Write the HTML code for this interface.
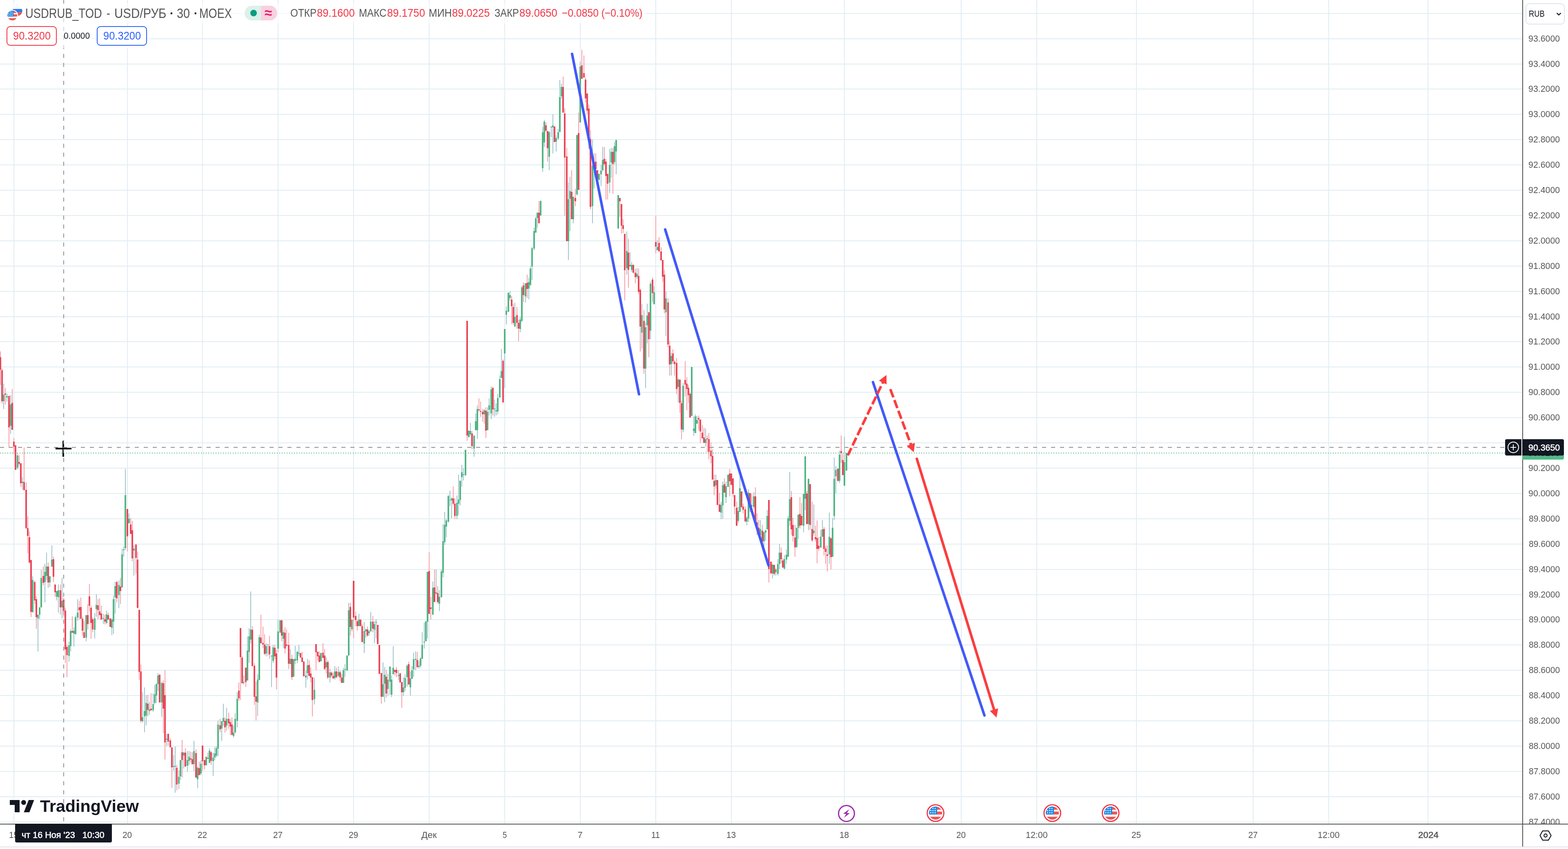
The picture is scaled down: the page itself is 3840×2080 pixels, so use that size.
<!DOCTYPE html>
<html lang="ru"><head><meta charset="utf-8"><title>USDRUB_TOD - USD/РУБ · 30 · MOEX</title>
<style>
html,body{margin:0;padding:0;background:#fff;}
body{width:3840px;height:2080px;overflow:hidden;position:relative;font-family:"Liberation Sans",sans-serif;}
#chart{position:absolute;left:0;top:0;width:3840px;height:2080px;overflow:hidden;}
svg{position:absolute;left:0;top:0;}
.t{position:absolute;white-space:pre;line-height:1;transform-origin:0 0;}
.b{position:absolute;box-sizing:border-box;}
</style></head>
<body>
<div id="chart">
<svg id="plot" width="3728" height="2018" viewBox="0 0 3728 2018" shape-rendering="crispEdges" style="z-index:0">
<path d="M0 32h3728v2h-3728zM0 94h3728v2h-3728zM0 156h3728v2h-3728zM0 217h3728v2h-3728zM0 279h3728v2h-3728zM0 341h3728v2h-3728zM0 403h3728v2h-3728zM0 465h3728v2h-3728zM0 527h3728v2h-3728zM0 589h3728v2h-3728zM0 651h3728v2h-3728zM0 713h3728v2h-3728zM0 775h3728v2h-3728zM0 836h3728v2h-3728zM0 898h3728v2h-3728zM0 960h3728v2h-3728zM0 1022h3728v2h-3728zM0 1084h3728v2h-3728zM0 1146h3728v2h-3728zM0 1208h3728v2h-3728zM0 1270h3728v2h-3728zM0 1332h3728v2h-3728zM0 1394h3728v2h-3728zM0 1456h3728v2h-3728zM0 1517h3728v2h-3728zM0 1579h3728v2h-3728zM0 1641h3728v2h-3728zM0 1703h3728v2h-3728zM0 1765h3728v2h-3728zM0 1827h3728v2h-3728zM0 1889h3728v2h-3728zM0 1951h3728v2h-3728zM0 2013h3728v2h-3728zM33 0h2v2018h-2zM311 0h2v2018h-2zM495 0h2v2018h-2zM680 0h2v2018h-2zM865 0h2v2018h-2zM1050 0h2v2018h-2zM1235 0h2v2018h-2zM1420 0h2v2018h-2zM1605 0h2v2018h-2zM1790 0h2v2018h-2zM2067 0h2v2018h-2zM2353 0h2v2018h-2zM2538 0h2v2018h-2zM2782 0h2v2018h-2zM3068 0h2v2018h-2zM3253 0h2v2018h-2zM3496 0h2v2018h-2z" fill="#E1ECF3"/>
<path d="M0 861h2v82h-2zM4 903h2v86h-2zM12 951h2v40h-2zM21 970h2v127h-2zM29 953h2v100h-2zM33 1073h2v39h-2zM37 1091h2v60h-2zM46 1115h2v26h-2zM50 1135h2v58h-2zM58 1096h2v105h-2zM63 1182h2v114h-2zM67 1265h2v90h-2zM71 1302h2v79h-2zM75 1372h2v140h-2zM84 1423h2v57h-2zM88 1461h2v79h-2zM105 1388h2v46h-2zM117 1378h2v62h-2zM130 1364h2v62h-2zM134 1432h2v30h-2zM147 1432h2v74h-2zM155 1464h2v47h-2zM159 1489h2v135h-2zM163 1580h2v79h-2zM176 1510h2v40h-2zM193 1472h2v45h-2zM197 1464h2v52h-2zM201 1511h2v46h-2zM205 1521h2v42h-2zM214 1480h2v62h-2zM218 1431h2v67h-2zM222 1484h2v81h-2zM226 1512h2v37h-2zM239 1468h2v49h-2zM243 1466h2v41h-2zM247 1484h2v34h-2zM256 1506h2v24h-2zM264 1501h2v17h-2zM269 1515h2v21h-2zM285 1423h2v53h-2zM294 1416h2v64h-2zM311 1247h2v104h-2zM319 1269h2v39h-2zM323 1276h2v99h-2zM332 1334h2v71h-2zM336 1352h2v139h-2zM340 1494h2v172h-2zM344 1628h2v143h-2zM361 1702h2v53h-2zM369 1698h2v43h-2zM390 1652h2v69h-2zM399 1667h2v129h-2zM403 1642h2v219h-2zM411 1797h2v30h-2zM416 1809h2v22h-2zM420 1831h2v99h-2zM432 1874h2v62h-2zM445 1813h2v92h-2zM453 1833h2v45h-2zM466 1842h2v26h-2zM470 1843h2v31h-2zM479 1836h2v69h-2zM487 1866h2v33h-2zM495 1825h2v64h-2zM500 1862h2v23h-2zM508 1844h2v15h-2zM516 1840h2v34h-2zM538 1761h2v33h-2zM550 1758h2v37h-2zM559 1746h2v39h-2zM563 1762h2v39h-2zM567 1758h2v44h-2zM584 1672h2v45h-2zM588 1538h2v177h-2zM592 1607h2v67h-2zM601 1635h2v48h-2zM617 1534h2v98h-2zM622 1625h2v102h-2zM626 1670h2v95h-2zM638 1506h2v70h-2zM643 1535h2v52h-2zM647 1554h2v51h-2zM659 1558h2v56h-2zM672 1580h2v35h-2zM676 1592h2v97h-2zM689 1518h2v53h-2zM697 1537h2v64h-2zM701 1542h2v42h-2zM706 1550h2v89h-2zM714 1604h2v62h-2zM735 1600h2v11h-2zM739 1597h2v25h-2zM743 1619h2v38h-2zM756 1617h2v39h-2zM760 1635h2v37h-2zM764 1659h2v96h-2zM773 1578h2v64h-2zM777 1596h2v22h-2zM781 1596h2v26h-2zM790 1576h2v36h-2zM794 1590h2v52h-2zM802 1618h2v46h-2zM811 1645h2v14h-2zM815 1648h2v15h-2zM823 1636h2v26h-2zM832 1643h2v26h-2zM836 1651h2v22h-2zM857 1477h2v80h-2zM865 1423h2v141h-2zM870 1498h2v36h-2zM874 1518h2v27h-2zM882 1518h2v16h-2zM886 1529h2v44h-2zM899 1535h2v25h-2zM912 1509h2v40h-2zM924 1531h2v47h-2zM928 1580h2v71h-2zM933 1649h2v75h-2zM945 1641h2v68h-2zM966 1641h2v14h-2zM970 1634h2v25h-2zM979 1648h2v24h-2zM983 1671h2v63h-2zM1000 1621h2v56h-2zM1021 1597h2v40h-2zM1050 1353h2v151h-2zM1054 1462h2v56h-2zM1063 1395h2v80h-2zM1071 1436h2v43h-2zM1109 1192h2v46h-2zM1113 1221h2v51h-2zM1143 786h2v294h-2zM1155 1056h2v45h-2zM1172 976h2v32h-2zM1176 984h2v37h-2zM1181 1002h2v31h-2zM1189 998h2v75h-2zM1206 949h2v69h-2zM1231 881h2v105h-2zM1252 725h2v69h-2zM1256 745h2v50h-2zM1265 752h2v53h-2zM1269 783h2v53h-2zM1281 692h2v48h-2zM1290 673h2v57h-2zM1319 493h2v54h-2zM1336 300h2v24h-2zM1340 321h2v75h-2zM1357 310h2v38h-2zM1378 188h2v88h-2zM1382 265h2v263h-2zM1387 363h2v228h-2zM1399 417h2v120h-2zM1408 463h2v42h-2zM1416 276h2v189h-2zM1424 122h2v71h-2zM1429 136h2v54h-2zM1433 190h2v61h-2zM1437 229h2v51h-2zM1441 256h2v109h-2zM1445 319h2v194h-2zM1458 376h2v38h-2zM1462 417h2v21h-2zM1479 360h2v46h-2zM1483 390h2v99h-2zM1487 426h2v63h-2zM1500 363h2v112h-2zM1517 485h2v46h-2zM1521 500h2v72h-2zM1525 537h2v34h-2zM1529 573h2v163h-2zM1538 585h2v120h-2zM1550 648h2v22h-2zM1555 659h2v35h-2zM1563 658h2v63h-2zM1567 707h2v154h-2zM1576 760h2v156h-2zM1588 765h2v110h-2zM1597 680h2v60h-2zM1605 529h2v92h-2zM1613 581h2v35h-2zM1618 606h2v32h-2zM1622 637h2v54h-2zM1626 661h2v107h-2zM1635 731h2v120h-2zM1639 835h2v85h-2zM1647 856h2v35h-2zM1651 883h2v37h-2zM1656 877h2v89h-2zM1664 930h2v81h-2zM1668 982h2v94h-2zM1677 885h2v86h-2zM1681 924h2v81h-2zM1685 943h2v44h-2zM1689 962h2v61h-2zM1710 1018h2v36h-2zM1714 1028h2v57h-2zM1719 1041h2v33h-2zM1723 1048h2v37h-2zM1731 1067h2v41h-2zM1735 1061h2v64h-2zM1740 1084h2v51h-2zM1744 1101h2v74h-2zM1748 1163h2v50h-2zM1756 1176h2v62h-2zM1761 1207h2v47h-2zM1773 1172h2v35h-2zM1786 1149h2v67h-2zM1790 1160h2v28h-2zM1794 1172h2v45h-2zM1798 1213h2v47h-2zM1803 1229h2v59h-2zM1815 1204h2v41h-2zM1819 1234h2v24h-2zM1824 1241h2v39h-2zM1836 1208h2v47h-2zM1840 1210h2v45h-2zM1849 1194h2v81h-2zM1853 1258h2v53h-2zM1857 1274h2v38h-2zM1866 1286h2v60h-2zM1882 1225h2v202h-2zM1887 1376h2v29h-2zM1895 1384h2v26h-2zM1912 1341h2v39h-2zM1916 1368h2v24h-2zM1937 1203h2v108h-2zM1941 1268h2v59h-2zM1946 1286h2v78h-2zM1958 1218h2v77h-2zM1962 1232h2v55h-2zM1975 1203h2v81h-2zM1983 1186h2v112h-2zM1988 1229h2v99h-2zM1996 1288h2v39h-2zM2000 1275h2v105h-2zM2004 1316h2v34h-2zM2017 1291h2v70h-2zM2021 1337h2v44h-2zM2025 1336h2v64h-2zM2034 1316h2v79h-2zM2051 1148h2v32h-2zM2059 1067h2v67h-2zM2063 1112h2v52h-2z" fill="#F7A0A8"/>
<path d="M8 940h2v62h-2zM16 964h2v20h-2zM25 968h2v95h-2zM42 1110h2v40h-2zM54 1169h2v30h-2zM79 1412h2v88h-2zM92 1506h2v90h-2zM96 1488h2v29h-2zM100 1396h2v92h-2zM109 1381h2v95h-2zM113 1354h2v67h-2zM121 1411h2v27h-2zM126 1336h2v53h-2zM138 1448h2v23h-2zM142 1432h2v69h-2zM151 1416h2v99h-2zM168 1572h2v49h-2zM172 1542h2v54h-2zM180 1537h2v47h-2zM184 1508h2v46h-2zM189 1468h2v53h-2zM210 1507h2v64h-2zM231 1502h2v62h-2zM235 1456h2v55h-2zM252 1504h2v25h-2zM260 1496h2v33h-2zM273 1515h2v41h-2zM277 1460h2v93h-2zM281 1425h2v78h-2zM290 1422h2v68h-2zM298 1344h2v95h-2zM302 1339h2v25h-2zM306 1149h2v198h-2zM315 1258h2v24h-2zM327 1336h2v74h-2zM348 1696h2v74h-2zM353 1684h2v110h-2zM357 1703h2v74h-2zM365 1720h2v31h-2zM374 1699h2v45h-2zM378 1678h2v48h-2zM382 1674h2v48h-2zM386 1649h2v44h-2zM395 1670h2v86h-2zM407 1798h2v30h-2zM424 1850h2v38h-2zM428 1829h2v113h-2zM437 1888h2v45h-2zM441 1862h2v49h-2zM449 1842h2v41h-2zM458 1840h2v50h-2zM462 1840h2v34h-2zM474 1815h2v74h-2zM483 1878h2v53h-2zM491 1863h2v36h-2zM504 1854h2v21h-2zM512 1833h2v36h-2zM521 1844h2v57h-2zM525 1830h2v33h-2zM529 1828h2v27h-2zM533 1765h2v88h-2zM542 1767h2v48h-2zM546 1724h2v54h-2zM554 1734h2v56h-2zM571 1778h2v29h-2zM575 1748h2v47h-2zM580 1696h2v86h-2zM596 1655h2v22h-2zM605 1559h2v108h-2zM609 1539h2v85h-2zM613 1449h2v127h-2zM630 1652h2v102h-2zM634 1555h2v111h-2zM651 1576h2v32h-2zM655 1578h2v28h-2zM664 1606h2v77h-2zM668 1580h2v44h-2zM680 1518h2v80h-2zM685 1518h2v32h-2zM693 1543h2v44h-2zM710 1590h2v37h-2zM718 1615h2v43h-2zM722 1582h2v45h-2zM727 1595h2v30h-2zM731 1580h2v27h-2zM748 1643h2v42h-2zM752 1614h2v51h-2zM769 1660h2v66h-2zM785 1599h2v21h-2zM798 1610h2v40h-2zM807 1638h2v34h-2zM819 1632h2v33h-2zM828 1633h2v26h-2zM840 1636h2v37h-2zM844 1627h2v31h-2zM849 1606h2v37h-2zM853 1477h2v129h-2zM861 1518h2v29h-2zM878 1504h2v30h-2zM891 1524h2v76h-2zM895 1540h2v22h-2zM903 1544h2v14h-2zM907 1499h2v48h-2zM916 1522h2v54h-2zM920 1517h2v47h-2zM937 1623h2v84h-2zM941 1634h2v86h-2zM949 1651h2v53h-2zM954 1633h2v69h-2zM958 1655h2v53h-2zM962 1583h2v69h-2zM975 1641h2v25h-2zM987 1659h2v46h-2zM991 1652h2v41h-2zM996 1628h2v54h-2zM1004 1645h2v59h-2zM1008 1632h2v31h-2zM1012 1599h2v59h-2zM1017 1596h2v46h-2zM1025 1619h2v19h-2zM1029 1610h2v25h-2zM1033 1549h2v65h-2zM1038 1525h2v64h-2zM1042 1522h2v49h-2zM1046 1401h2v163h-2zM1059 1425h2v81h-2zM1067 1395h2v62h-2zM1075 1446h2v51h-2zM1080 1395h2v69h-2zM1084 1284h2v130h-2zM1088 1254h2v81h-2zM1092 1271h2v45h-2zM1097 1213h2v67h-2zM1101 1202h2v38h-2zM1105 1218h2v52h-2zM1118 1214h2v58h-2zM1122 1163h2v99h-2zM1126 1177h2v61h-2zM1130 1139h2v53h-2zM1134 1147h2v30h-2zM1139 1102h2v64h-2zM1147 1055h2v16h-2zM1151 1036h2v33h-2zM1160 1067h2v52h-2zM1164 1013h2v41h-2zM1168 993h2v82h-2zM1185 1002h2v36h-2zM1193 998h2v56h-2zM1197 976h2v42h-2zM1202 947h2v80h-2zM1210 979h2v42h-2zM1214 988h2v30h-2zM1218 965h2v50h-2zM1223 920h2v54h-2zM1227 855h2v71h-2zM1235 806h2v144h-2zM1239 751h2v44h-2zM1244 717h2v47h-2zM1248 713h2v23h-2zM1260 742h2v58h-2zM1273 776h2v38h-2zM1277 701h2v88h-2zM1286 694h2v47h-2zM1294 681h2v52h-2zM1298 652h2v49h-2zM1302 605h2v81h-2zM1307 558h2v55h-2zM1311 531h2v39h-2zM1315 521h2v37h-2zM1323 492h2v36h-2zM1328 311h2v110h-2zM1332 294h2v66h-2zM1344 321h2v96h-2zM1349 310h2v26h-2zM1353 280h2v96h-2zM1361 331h2v40h-2zM1366 316h2v26h-2zM1370 196h2v129h-2zM1374 205h2v37h-2zM1391 447h2v190h-2zM1395 433h2v133h-2zM1403 482h2v65h-2zM1412 330h2v149h-2zM1420 150h2v150h-2zM1450 342h2v205h-2zM1454 375h2v87h-2zM1466 426h2v15h-2zM1471 404h2v52h-2zM1475 360h2v60h-2zM1492 365h2v108h-2zM1496 362h2v73h-2zM1504 348h2v55h-2zM1508 343h2v84h-2zM1513 478h2v82h-2zM1534 567h2v106h-2zM1542 618h2v35h-2zM1546 642h2v24h-2zM1559 657h2v26h-2zM1571 745h2v109h-2zM1580 790h2v161h-2zM1584 744h2v97h-2zM1592 690h2v141h-2zM1601 701h2v45h-2zM1609 588h2v25h-2zM1630 714h2v109h-2zM1643 864h2v56h-2zM1660 926h2v60h-2zM1672 939h2v120h-2zM1693 899h2v120h-2zM1698 1020h2v48h-2zM1702 1015h2v46h-2zM1706 1019h2v19h-2zM1727 1050h2v44h-2zM1752 1163h2v34h-2zM1765 1230h2v42h-2zM1769 1180h2v91h-2zM1777 1180h2v52h-2zM1782 1163h2v30h-2zM1807 1241h2v40h-2zM1811 1165h2v89h-2zM1828 1265h2v22h-2zM1832 1199h2v80h-2zM1845 1206h2v41h-2zM1861 1274h2v37h-2zM1870 1302h2v38h-2zM1874 1299h2v26h-2zM1878 1250h2v47h-2zM1891 1383h2v34h-2zM1899 1392h2v18h-2zM1904 1370h2v40h-2zM1908 1333h2v61h-2zM1920 1360h2v35h-2zM1925 1346h2v35h-2zM1929 1264h2v100h-2zM1933 1156h2v132h-2zM1950 1293h2v50h-2zM1954 1261h2v59h-2zM1967 1210h2v94h-2zM1971 1118h2v132h-2zM1979 1173h2v126h-2zM1992 1236h2v76h-2zM2009 1298h2v45h-2zM2013 1274h2v41h-2zM2030 1256h2v125h-2zM2038 1269h2v95h-2zM2042 1121h2v153h-2zM2046 1142h2v66h-2zM2055 1104h2v79h-2zM2067 1070h2v120h-2zM2072 1110h2v43h-2z" fill="#9DC5CC"/>
<path d="M-1 875h4v31h-4zM3 907h4v76h-4z" fill="#EB4659"/>
<path d="M7 967h4v16h-4z" fill="#53B484"/>
<path d="M11 964h4v3h-4z" fill="#EB4659"/>
<path d="M15 970h4v4h-4z" fill="#53B484"/>
<path d="M20 970h4v77h-4z" fill="#EB4659"/>
<path d="M24 991h4v52h-4z" fill="#53B484"/>
<path d="M28 987h4v66h-4zM32 1082h4v12h-4zM36 1091h4v60h-4z" fill="#EB4659"/>
<path d="M41 1116h4v30h-4z" fill="#53B484"/>
<path d="M45 1132h4v4h-4zM49 1135h4v49h-4z" fill="#EB4659"/>
<path d="M53 1180h4v3h-4z" fill="#53B484"/>
<path d="M57 1181h4v20h-4zM62 1200h4v94h-4zM66 1294h4v19h-4zM70 1316h4v62h-4zM74 1372h4v127h-4z" fill="#EB4659"/>
<path d="M78 1421h4v79h-4z" fill="#53B484"/>
<path d="M83 1426h4v45h-4zM87 1468h4v44h-4z" fill="#EB4659"/>
<path d="M91 1506h4v9h-4zM95 1488h4v18h-4zM99 1416h4v72h-4z" fill="#53B484"/>
<path d="M104 1411h4v17h-4z" fill="#EB4659"/>
<path d="M108 1401h4v25h-4zM112 1388h4v23h-4z" fill="#53B484"/>
<path d="M116 1388h4v39h-4z" fill="#EB4659"/>
<path d="M120 1412h4v15h-4zM125 1371h4v17h-4z" fill="#53B484"/>
<path d="M129 1370h4v43h-4zM133 1432h4v19h-4z" fill="#EB4659"/>
<path d="M137 1448h4v14h-4zM141 1446h4v17h-4z" fill="#53B484"/>
<path d="M146 1446h4v42h-4z" fill="#EB4659"/>
<path d="M150 1472h4v16h-4z" fill="#53B484"/>
<path d="M154 1469h4v28h-4zM158 1496h4v95h-4zM162 1585h4v20h-4z" fill="#EB4659"/>
<path d="M167 1581h4v26h-4zM171 1546h4v37h-4z" fill="#53B484"/>
<path d="M175 1546h4v4h-4z" fill="#EB4659"/>
<path d="M179 1545h4v7h-4zM183 1512h4v42h-4zM188 1501h4v12h-4z" fill="#53B484"/>
<path d="M192 1488h4v7h-4zM196 1487h4v29h-4zM200 1516h4v29h-4zM204 1549h4v14h-4z" fill="#EB4659"/>
<path d="M209 1507h4v55h-4z" fill="#53B484"/>
<path d="M213 1507h4v22h-4zM217 1461h4v23h-4zM221 1489h4v37h-4zM225 1517h4v25h-4z" fill="#EB4659"/>
<path d="M230 1515h4v28h-4zM234 1482h4v10h-4z" fill="#53B484"/>
<path d="M238 1483h4v12h-4zM242 1498h4v9h-4zM246 1503h4v15h-4z" fill="#EB4659"/>
<path d="M251 1514h4v2h-4z" fill="#53B484"/>
<path d="M255 1517h4v6h-4z" fill="#EB4659"/>
<path d="M259 1505h4v21h-4z" fill="#53B484"/>
<path d="M263 1507h4v11h-4zM268 1515h4v21h-4z" fill="#EB4659"/>
<path d="M272 1518h4v20h-4zM276 1468h4v55h-4zM280 1436h4v27h-4z" fill="#53B484"/>
<path d="M284 1426h4v40h-4z" fill="#EB4659"/>
<path d="M289 1433h4v25h-4z" fill="#53B484"/>
<path d="M293 1437h4v11h-4z" fill="#EB4659"/>
<path d="M297 1358h4v81h-4zM301 1346h4v2h-4zM305 1213h4v130h-4z" fill="#53B484"/>
<path d="M310 1247h4v67h-4z" fill="#EB4659"/>
<path d="M314 1271h4v11h-4z" fill="#53B484"/>
<path d="M318 1285h4v23h-4zM322 1299h4v69h-4z" fill="#EB4659"/>
<path d="M326 1344h4v5h-4z" fill="#53B484"/>
<path d="M331 1334h4v33h-4zM335 1371h4v118h-4zM339 1494h4v152h-4zM343 1645h4v121h-4z" fill="#EB4659"/>
<path d="M347 1757h4v10h-4zM352 1742h4v13h-4zM356 1722h4v31h-4z" fill="#53B484"/>
<path d="M360 1724h4v15h-4z" fill="#EB4659"/>
<path d="M364 1738h4v4h-4z" fill="#53B484"/>
<path d="M368 1736h4v4h-4z" fill="#EB4659"/>
<path d="M373 1725h4v15h-4zM377 1701h4v21h-4zM381 1676h4v28h-4zM385 1655h4v21h-4z" fill="#53B484"/>
<path d="M389 1653h4v68h-4z" fill="#EB4659"/>
<path d="M394 1673h4v48h-4z" fill="#53B484"/>
<path d="M398 1674h4v62h-4zM402 1703h4v116h-4z" fill="#EB4659"/>
<path d="M406 1810h4v2h-4z" fill="#53B484"/>
<path d="M410 1798h4v19h-4zM415 1814h4v17h-4zM419 1831h4v49h-4z" fill="#EB4659"/>
<path d="M423 1877h4v2h-4zM427 1876h4v2h-4z" fill="#53B484"/>
<path d="M431 1881h4v41h-4z" fill="#EB4659"/>
<path d="M436 1903h4v17h-4zM440 1862h4v40h-4z" fill="#53B484"/>
<path d="M444 1843h4v19h-4z" fill="#EB4659"/>
<path d="M448 1844h4v7h-4z" fill="#53B484"/>
<path d="M452 1844h4v34h-4z" fill="#EB4659"/>
<path d="M457 1862h4v14h-4zM461 1854h4v10h-4z" fill="#53B484"/>
<path d="M465 1858h4v3h-4zM469 1860h4v12h-4z" fill="#EB4659"/>
<path d="M473 1840h4v32h-4z" fill="#53B484"/>
<path d="M478 1845h4v60h-4z" fill="#EB4659"/>
<path d="M482 1881h4v28h-4z" fill="#53B484"/>
<path d="M486 1882h4v17h-4z" fill="#EB4659"/>
<path d="M490 1871h4v24h-4z" fill="#53B484"/>
<path d="M494 1827h4v38h-4zM499 1862h4v13h-4z" fill="#EB4659"/>
<path d="M503 1854h4v21h-4z" fill="#53B484"/>
<path d="M507 1857h4v2h-4z" fill="#EB4659"/>
<path d="M511 1839h4v30h-4z" fill="#53B484"/>
<path d="M515 1843h4v21h-4z" fill="#EB4659"/>
<path d="M520 1856h4v9h-4zM524 1846h4v10h-4zM528 1833h4v18h-4zM532 1775h4v59h-4z" fill="#53B484"/>
<path d="M537 1777h4v10h-4z" fill="#EB4659"/>
<path d="M541 1767h4v18h-4zM545 1759h4v9h-4z" fill="#53B484"/>
<path d="M549 1766h4v16h-4z" fill="#EB4659"/>
<path d="M553 1761h4v17h-4z" fill="#53B484"/>
<path d="M558 1761h4v11h-4zM562 1769h4v11h-4zM566 1775h4v25h-4z" fill="#EB4659"/>
<path d="M570 1795h4v8h-4zM574 1761h4v34h-4zM579 1712h4v54h-4z" fill="#53B484"/>
<path d="M583 1692h4v19h-4zM587 1539h4v71h-4zM591 1611h4v63h-4z" fill="#EB4659"/>
<path d="M595 1671h4v2h-4z" fill="#53B484"/>
<path d="M600 1636h4v35h-4z" fill="#EB4659"/>
<path d="M604 1594h4v73h-4zM608 1559h4v38h-4zM612 1542h4v25h-4z" fill="#53B484"/>
<path d="M616 1543h4v89h-4zM621 1631h4v76h-4zM625 1706h4v13h-4z" fill="#EB4659"/>
<path d="M629 1665h4v56h-4zM633 1561h4v105h-4z" fill="#53B484"/>
<path d="M637 1562h4v14h-4zM642 1575h4v4h-4zM646 1579h4v23h-4z" fill="#EB4659"/>
<path d="M650 1583h4v18h-4zM654 1579h4v1h-4z" fill="#53B484"/>
<path d="M658 1583h4v20h-4z" fill="#EB4659"/>
<path d="M663 1606h4v2h-4zM667 1586h4v33h-4z" fill="#53B484"/>
<path d="M671 1587h4v21h-4zM675 1601h4v59h-4z" fill="#EB4659"/>
<path d="M679 1547h4v42h-4zM684 1520h4v30h-4z" fill="#53B484"/>
<path d="M688 1520h4v37h-4z" fill="#EB4659"/>
<path d="M692 1549h4v16h-4z" fill="#53B484"/>
<path d="M696 1550h4v39h-4zM700 1579h4v3h-4zM705 1580h4v46h-4z" fill="#EB4659"/>
<path d="M709 1614h4v13h-4z" fill="#53B484"/>
<path d="M713 1614h4v45h-4z" fill="#EB4659"/>
<path d="M717 1615h4v43h-4zM721 1614h4v5h-4zM726 1597h4v21h-4zM730 1599h4v2h-4z" fill="#53B484"/>
<path d="M734 1600h4v11h-4zM738 1611h4v11h-4zM742 1621h4v36h-4z" fill="#EB4659"/>
<path d="M747 1655h4v5h-4zM751 1630h4v19h-4z" fill="#53B484"/>
<path d="M755 1629h4v27h-4zM759 1650h4v10h-4zM763 1659h4v56h-4z" fill="#EB4659"/>
<path d="M768 1690h4v23h-4z" fill="#53B484"/>
<path d="M772 1578h4v20h-4zM776 1597h4v11h-4zM780 1606h4v16h-4z" fill="#EB4659"/>
<path d="M784 1600h4v20h-4z" fill="#53B484"/>
<path d="M789 1599h4v13h-4zM793 1606h4v33h-4z" fill="#EB4659"/>
<path d="M797 1622h4v13h-4z" fill="#53B484"/>
<path d="M801 1622h4v38h-4z" fill="#EB4659"/>
<path d="M806 1647h4v13h-4z" fill="#53B484"/>
<path d="M810 1648h4v7h-4zM814 1656h4v6h-4z" fill="#EB4659"/>
<path d="M818 1645h4v16h-4z" fill="#53B484"/>
<path d="M822 1645h4v14h-4z" fill="#EB4659"/>
<path d="M827 1646h4v10h-4z" fill="#53B484"/>
<path d="M831 1647h4v13h-4zM835 1660h4v13h-4z" fill="#EB4659"/>
<path d="M839 1642h4v31h-4zM843 1639h4v2h-4zM848 1606h4v37h-4zM852 1495h4v111h-4z" fill="#53B484"/>
<path d="M856 1487h4v49h-4z" fill="#EB4659"/>
<path d="M860 1518h4v24h-4z" fill="#53B484"/>
<path d="M864 1423h4v90h-4zM869 1509h4v10h-4zM873 1522h4v12h-4z" fill="#EB4659"/>
<path d="M877 1518h4v16h-4z" fill="#53B484"/>
<path d="M881 1518h4v16h-4zM885 1534h4v39h-4z" fill="#EB4659"/>
<path d="M890 1546h4v31h-4zM894 1542h4v5h-4z" fill="#53B484"/>
<path d="M898 1542h4v15h-4z" fill="#EB4659"/>
<path d="M902 1547h4v4h-4zM906 1523h4v24h-4z" fill="#53B484"/>
<path d="M911 1523h4v17h-4z" fill="#EB4659"/>
<path d="M915 1529h4v14h-4zM919 1524h4v2h-4z" fill="#53B484"/>
<path d="M923 1531h4v47h-4zM927 1580h4v71h-4zM932 1649h4v58h-4z" fill="#EB4659"/>
<path d="M936 1676h4v31h-4zM940 1653h4v22h-4z" fill="#53B484"/>
<path d="M944 1658h4v41h-4z" fill="#EB4659"/>
<path d="M948 1665h4v23h-4zM953 1633h4v37h-4zM957 1665h4v37h-4zM961 1636h4v16h-4z" fill="#53B484"/>
<path d="M965 1641h4v5h-4zM969 1641h4v8h-4z" fill="#EB4659"/>
<path d="M974 1654h4v2h-4z" fill="#53B484"/>
<path d="M978 1650h4v22h-4zM982 1671h4v25h-4z" fill="#EB4659"/>
<path d="M986 1684h4v12h-4zM990 1661h4v24h-4zM995 1631h4v28h-4z" fill="#53B484"/>
<path d="M999 1627h4v50h-4z" fill="#EB4659"/>
<path d="M1003 1662h4v22h-4zM1007 1642h4v21h-4zM1011 1615h4v25h-4zM1016 1614h4v3h-4z" fill="#53B484"/>
<path d="M1020 1617h4v17h-4z" fill="#EB4659"/>
<path d="M1024 1631h4v3h-4zM1028 1613h4v18h-4zM1032 1580h4v34h-4zM1037 1572h4v2h-4zM1041 1522h4v49h-4zM1045 1401h4v122h-4z" fill="#53B484"/>
<path d="M1049 1399h4v105h-4zM1053 1488h4v4h-4z" fill="#EB4659"/>
<path d="M1058 1440h4v66h-4z" fill="#53B484"/>
<path d="M1062 1439h4v36h-4z" fill="#EB4659"/>
<path d="M1066 1451h4v3h-4z" fill="#53B484"/>
<path d="M1070 1453h4v22h-4z" fill="#EB4659"/>
<path d="M1074 1462h4v17h-4zM1079 1400h4v63h-4zM1083 1326h4v77h-4zM1087 1286h4v42h-4zM1091 1275h4v15h-4zM1096 1215h4v63h-4zM1100 1225h4v1h-4zM1104 1221h4v5h-4z" fill="#53B484"/>
<path d="M1108 1221h4v13h-4zM1112 1234h4v30h-4z" fill="#EB4659"/>
<path d="M1117 1232h4v32h-4zM1121 1224h4v10h-4zM1125 1178h4v47h-4zM1129 1157h4v12h-4zM1133 1162h4v2h-4zM1138 1102h4v62h-4z" fill="#53B484"/>
<path d="M1142 786h4v281h-4z" fill="#EB4659"/>
<path d="M1146 1055h4v16h-4zM1150 1056h4v8h-4z" fill="#53B484"/>
<path d="M1154 1062h4v31h-4z" fill="#EB4659"/>
<path d="M1159 1067h4v32h-4zM1163 1032h4v22h-4zM1167 1002h4v52h-4z" fill="#53B484"/>
<path d="M1171 1003h4v2h-4zM1175 1007h4v2h-4zM1180 1009h4v6h-4z" fill="#EB4659"/>
<path d="M1184 1005h4v10h-4z" fill="#53B484"/>
<path d="M1188 1006h4v49h-4z" fill="#EB4659"/>
<path d="M1192 1009h4v45h-4zM1196 993h4v11h-4zM1201 954h4v59h-4z" fill="#53B484"/>
<path d="M1205 950h4v53h-4z" fill="#EB4659"/>
<path d="M1209 1001h4v2h-4zM1213 1005h4v3h-4zM1217 975h4v33h-4zM1222 929h4v45h-4zM1226 909h4v17h-4z" fill="#53B484"/>
<path d="M1230 884h4v102h-4z" fill="#EB4659"/>
<path d="M1234 806h4v60h-4zM1238 761h4v10h-4zM1243 717h4v47h-4zM1247 723h4v7h-4z" fill="#53B484"/>
<path d="M1251 734h4v16h-4zM1255 752h4v39h-4z" fill="#EB4659"/>
<path d="M1259 776h4v24h-4z" fill="#53B484"/>
<path d="M1264 772h4v19h-4zM1268 791h4v14h-4z" fill="#EB4659"/>
<path d="M1272 783h4v23h-4zM1276 704h4v82h-4z" fill="#53B484"/>
<path d="M1280 699h4v24h-4z" fill="#EB4659"/>
<path d="M1285 694h4v32h-4z" fill="#53B484"/>
<path d="M1289 693h4v15h-4z" fill="#EB4659"/>
<path d="M1293 691h4v16h-4zM1297 658h4v40h-4zM1301 608h4v45h-4zM1306 566h4v43h-4zM1310 535h4v35h-4zM1314 521h4v13h-4z" fill="#53B484"/>
<path d="M1318 521h4v26h-4z" fill="#EB4659"/>
<path d="M1322 492h4v36h-4zM1327 324h4v88h-4zM1331 298h4v51h-4z" fill="#53B484"/>
<path d="M1335 307h4v13h-4zM1339 321h4v42h-4z" fill="#EB4659"/>
<path d="M1343 324h4v60h-4zM1348 310h4v2h-4zM1352 307h4v5h-4z" fill="#53B484"/>
<path d="M1356 310h4v38h-4z" fill="#EB4659"/>
<path d="M1360 338h4v9h-4zM1365 324h4v15h-4zM1369 238h4v85h-4zM1373 213h4v23h-4z" fill="#53B484"/>
<path d="M1377 213h4v63h-4zM1381 278h4v108h-4zM1386 383h4v208h-4z" fill="#EB4659"/>
<path d="M1390 488h4v103h-4zM1394 468h4v19h-4z" fill="#53B484"/>
<path d="M1398 470h4v67h-4z" fill="#EB4659"/>
<path d="M1402 482h4v55h-4z" fill="#53B484"/>
<path d="M1407 485h4v8h-4z" fill="#EB4659"/>
<path d="M1411 331h4v145h-4z" fill="#53B484"/>
<path d="M1415 326h4v139h-4z" fill="#EB4659"/>
<path d="M1419 163h4v137h-4z" fill="#53B484"/>
<path d="M1423 160h4v33h-4zM1428 179h4v11h-4zM1432 195h4v46h-4zM1436 229h4v42h-4zM1440 266h4v71h-4zM1444 341h4v166h-4z" fill="#EB4659"/>
<path d="M1449 406h4v99h-4zM1453 398h4v7h-4z" fill="#53B484"/>
<path d="M1457 396h4v18h-4zM1461 417h4v21h-4z" fill="#EB4659"/>
<path d="M1465 426h4v15h-4zM1470 418h4v9h-4zM1474 392h4v25h-4z" fill="#53B484"/>
<path d="M1478 389h4v13h-4zM1482 396h4v35h-4zM1486 426h4v24h-4z" fill="#EB4659"/>
<path d="M1491 404h4v43h-4zM1495 372h4v26h-4z" fill="#53B484"/>
<path d="M1499 372h4v30h-4z" fill="#EB4659"/>
<path d="M1503 358h4v39h-4zM1507 343h4v28h-4zM1512 478h4v82h-4z" fill="#53B484"/>
<path d="M1516 485h4v8h-4zM1520 500h4v53h-4zM1524 552h4v9h-4zM1528 573h4v89h-4z" fill="#EB4659"/>
<path d="M1533 615h4v42h-4z" fill="#53B484"/>
<path d="M1537 619h4v42h-4z" fill="#EB4659"/>
<path d="M1541 649h4v4h-4zM1545 649h4v12h-4z" fill="#53B484"/>
<path d="M1549 649h4v19h-4zM1554 668h4v11h-4z" fill="#EB4659"/>
<path d="M1558 671h4v7h-4z" fill="#53B484"/>
<path d="M1562 676h4v39h-4zM1566 710h4v90h-4z" fill="#EB4659"/>
<path d="M1570 772h4v43h-4z" fill="#53B484"/>
<path d="M1575 786h4v117h-4z" fill="#EB4659"/>
<path d="M1579 802h4v101h-4zM1583 773h4v24h-4z" fill="#53B484"/>
<path d="M1587 765h4v66h-4z" fill="#EB4659"/>
<path d="M1591 695h4v115h-4z" fill="#53B484"/>
<path d="M1596 685h4v33h-4z" fill="#EB4659"/>
<path d="M1600 716h4v29h-4z" fill="#53B484"/>
<path d="M1604 593h4v11h-4z" fill="#EB4659"/>
<path d="M1608 605h4v8h-4z" fill="#53B484"/>
<path d="M1612 595h4v21h-4zM1617 616h4v22h-4zM1621 637h4v41h-4zM1625 673h4v85h-4z" fill="#EB4659"/>
<path d="M1629 731h4v34h-4z" fill="#53B484"/>
<path d="M1634 741h4v103h-4zM1638 847h4v46h-4z" fill="#EB4659"/>
<path d="M1642 872h4v20h-4z" fill="#53B484"/>
<path d="M1646 866h4v19h-4zM1650 886h4v6h-4zM1655 889h4v64h-4z" fill="#EB4659"/>
<path d="M1659 930h4v18h-4z" fill="#53B484"/>
<path d="M1663 930h4v57h-4zM1667 988h4v64h-4z" fill="#EB4659"/>
<path d="M1671 945h4v108h-4z" fill="#53B484"/>
<path d="M1676 931h4v11h-4zM1680 940h4v13h-4zM1684 950h4v18h-4zM1688 965h4v58h-4z" fill="#EB4659"/>
<path d="M1692 899h4v120h-4zM1697 1050h4v6h-4zM1701 1020h4v41h-4zM1705 1029h4v9h-4z" fill="#53B484"/>
<path d="M1709 1024h4v4h-4zM1713 1028h4v29h-4zM1718 1060h4v14h-4zM1722 1072h4v13h-4z" fill="#EB4659"/>
<path d="M1726 1076h4v9h-4z" fill="#53B484"/>
<path d="M1730 1074h4v2h-4zM1734 1076h4v31h-4zM1739 1104h4v14h-4zM1743 1117h4v58h-4zM1747 1178h4v14h-4z" fill="#EB4659"/>
<path d="M1751 1176h4v13h-4z" fill="#53B484"/>
<path d="M1755 1176h4v61h-4zM1760 1236h4v18h-4z" fill="#EB4659"/>
<path d="M1764 1237h4v19h-4zM1768 1189h4v49h-4z" fill="#53B484"/>
<path d="M1772 1186h4v21h-4z" fill="#EB4659"/>
<path d="M1776 1191h4v27h-4zM1781 1163h4v30h-4z" fill="#53B484"/>
<path d="M1785 1160h4v19h-4zM1789 1160h4v28h-4zM1793 1172h4v38h-4zM1797 1213h4v28h-4zM1802 1244h4v44h-4z" fill="#EB4659"/>
<path d="M1806 1252h4v24h-4zM1810 1196h4v58h-4z" fill="#53B484"/>
<path d="M1814 1204h4v38h-4zM1818 1241h4v8h-4zM1823 1248h4v29h-4z" fill="#EB4659"/>
<path d="M1827 1269h4v9h-4zM1831 1207h4v63h-4z" fill="#53B484"/>
<path d="M1835 1208h4v32h-4zM1839 1238h4v2h-4z" fill="#EB4659"/>
<path d="M1844 1216h4v26h-4z" fill="#53B484"/>
<path d="M1848 1216h4v59h-4zM1852 1280h4v14h-4zM1856 1293h4v19h-4z" fill="#EB4659"/>
<path d="M1860 1296h4v15h-4z" fill="#53B484"/>
<path d="M1865 1300h4v27h-4z" fill="#EB4659"/>
<path d="M1869 1304h4v22h-4zM1873 1299h4v6h-4zM1877 1264h4v33h-4z" fill="#53B484"/>
<path d="M1881 1225h4v169h-4zM1886 1376h4v29h-4z" fill="#EB4659"/>
<path d="M1890 1383h4v22h-4z" fill="#53B484"/>
<path d="M1894 1384h4v22h-4z" fill="#EB4659"/>
<path d="M1898 1395h4v7h-4zM1903 1382h4v24h-4zM1907 1354h4v28h-4z" fill="#53B484"/>
<path d="M1911 1354h4v16h-4zM1915 1373h4v17h-4z" fill="#EB4659"/>
<path d="M1919 1370h4v23h-4zM1924 1359h4v12h-4zM1928 1270h4v94h-4zM1932 1223h4v53h-4z" fill="#53B484"/>
<path d="M1936 1218h4v79h-4zM1940 1286h4v27h-4zM1945 1317h4v24h-4z" fill="#EB4659"/>
<path d="M1949 1293h4v47h-4zM1953 1261h4v32h-4z" fill="#53B484"/>
<path d="M1957 1259h4v29h-4zM1961 1264h4v23h-4z" fill="#EB4659"/>
<path d="M1966 1210h4v78h-4zM1970 1118h4v104h-4z" fill="#53B484"/>
<path d="M1974 1209h4v75h-4z" fill="#EB4659"/>
<path d="M1978 1173h4v111h-4z" fill="#53B484"/>
<path d="M1982 1186h4v100h-4zM1987 1296h4v28h-4z" fill="#EB4659"/>
<path d="M1991 1300h4v6h-4z" fill="#53B484"/>
<path d="M1995 1316h4v5h-4zM1999 1318h4v27h-4zM2003 1337h4v7h-4z" fill="#EB4659"/>
<path d="M2008 1315h4v26h-4zM2012 1297h4v18h-4z" fill="#53B484"/>
<path d="M2016 1296h4v49h-4zM2020 1344h4v8h-4zM2024 1358h4v4h-4z" fill="#EB4659"/>
<path d="M2029 1315h4v43h-4z" fill="#53B484"/>
<path d="M2033 1319h4v46h-4z" fill="#EB4659"/>
<path d="M2037 1293h4v71h-4zM2041 1173h4v91h-4zM2045 1151h4v16h-4z" fill="#53B484"/>
<path d="M2050 1148h4v30h-4z" fill="#EB4659"/>
<path d="M2054 1114h4v64h-4z" fill="#53B484"/>
<path d="M2058 1105h4v5h-4zM2062 1127h4v37h-4z" fill="#EB4659"/>
<path d="M2066 1132h4v58h-4zM2071 1110h4v43h-4z" fill="#53B484"/>
<path d="M153 1080h4v39h-4zM136 1097h39v4h-39z" fill="#000"/>
<path d="M0 1110H3686" stroke="#4DB684" stroke-width="2" stroke-dasharray="2 4" fill="none"/>
<path d="M0 1096H3686" stroke="#929292" stroke-width="2" stroke-dasharray="10 12" fill="none"/>
<path d="M156 0V2018" stroke="#929292" stroke-width="2" stroke-dasharray="10 12" fill="none"/>
<g shape-rendering="geometricPrecision"><path d="M1401 132L1564.9 965.8" stroke="#4259F8" stroke-width="6.3" stroke-linecap="round" fill="none"/><path d="M1629 562.2L1882 1385" stroke="#4259F8" stroke-width="6.3" stroke-linecap="round" fill="none"/><path d="M2137.9 936.2L2410.9 1752.7" stroke="#4259F8" stroke-width="6.3" stroke-linecap="round" fill="none"/><circle cx="2077.5" cy="1113.0" r="3.15" fill="#FB3D3F"/><path d="M2077.5 1113.0L2162.8 935.5" stroke="#FB3D3F" stroke-width="6.3" stroke-dasharray="21 7" stroke-dashoffset="4" fill="none"/><path d="M2170.8 918.8L2171.4 941.8L2152.5 932.7z" fill="#FB3D3F"/><circle cx="2181.3" cy="955.9" r="3.15" fill="#FB3D3F"/><path d="M2181.3 955.9L2231.4 1090.6" stroke="#FB3D3F" stroke-width="6.3" stroke-dasharray="21 7" stroke-dashoffset="2.2" fill="none"/><path d="M2237.8 1107.9L2220.8 1092.3L2240.5 1085.0z" fill="#FB3D3F"/><path d="M2245.2 1123.9L2435.0 1740.4" stroke="#FB3D3F" stroke-width="6.3" stroke-linecap="round" fill="none"/><path d="M2440.4 1758.1L2424.3 1741.6L2444.4 1735.4z" fill="#FB3D3F"/></g>
</svg>
<div class="b" style="left:0;top:8px;width:1582px;height:49px;background:rgba(255,255,255,.6);z-index:3"></div>
<div class="b" style="left:0;top:62px;width:367px;height:56px;background:rgba(255,255,255,.6);z-index:3"></div>
<div class="b" style="left:3730px;top:0;width:110px;height:2018px;background:#fff;z-index:1"></div>
<div class="b" style="left:0;top:2020px;width:3840px;height:54px;background:#fff;z-index:3"></div>
<div class="b" style="left:3728px;top:0;width:2px;height:2074px;background:#525252;z-index:4"></div>
<div class="b" style="left:0;top:2018px;width:3840px;height:2px;background:#525252;z-index:4"></div>
<div class="b" style="left:0;top:2074px;width:3840px;height:2px;background:#E0E3EB;z-index:4"></div>
<div class="b" style="left:3736px;top:8px;width:96px;height:52px;border:2px solid #E0E3EB;border-radius:9px;background:#fff;z-index:5"></div>
<div class="b" style="left:599px;top:14px;width:40px;height:36px;background:#DCF1EB;border-radius:18px 0 0 18px;z-index:4"></div>
<div class="b" style="left:639px;top:14px;width:40px;height:36px;background:#F9D1E0;border-radius:0 18px 18px 0;z-index:4"></div>
<div class="b" style="left:613px;top:24px;width:16px;height:16px;background:#0E9A80;border-radius:8px;z-index:5"></div>
<div class="b" style="left:16px;top:64px;width:123px;height:48px;border:2px solid #F23645;border-radius:9px;background:rgba(255,255,255,.5);z-index:4"></div>
<div class="b" style="left:237px;top:64px;width:123px;height:48px;border:2px solid #2962FF;border-radius:9px;background:rgba(255,255,255,.5);z-index:4"></div>
<div class="b" style="left:3728px;top:1094px;width:102px;height:32px;background:#53B987;border-radius:0 4px 4px 0;z-index:5"></div>
<div class="b" style="left:3728px;top:1076px;width:102px;height:40px;background:#131722;border-radius:0 4px 4px 0;z-index:7"></div>
<div class="b" style="left:3686px;top:1076px;width:40px;height:40px;background:#131722;border-radius:4px 0 0 4px;z-index:7"></div>
<div class="b" style="left:37px;top:2018px;width:237px;height:46px;background:#131722;border-radius:0 0 4px 4px;z-index:7"></div>
<svg id="icons" width="3840" height="2080" viewBox="0 0 3840 2080" style="z-index:9;pointer-events:none">
<circle cx="2073" cy="1993" r="22.5" fill="#fff"/>
<circle cx="2073" cy="1993" r="19.4" fill="#fff" stroke="#9C27B0" stroke-width="3.0"/>
<path d="M2079.8 1982.6L2064.9 1993.7L2072.5 1994.0L2066.7 2003.6L2081.0 1992.2L2074.0 1991.9z" fill="#9C27B0"/>
<circle cx="2291.1" cy="1992" r="23.5" fill="#fff"/>
<circle cx="2291.1" cy="1992" r="20.35" fill="#fff" stroke="#F23645" stroke-width="2.9"/>
<clipPath id="f0"><circle cx="2291.1" cy="1992" r="16"/></clipPath><g clip-path="url(#f0)"><rect x="2275.1" y="1976" width="32" height="32" fill="#F4F4F8"/><rect x="2275.1" y="1976.60" width="32" height="7.00" fill="#EF5350"/><rect x="2275.1" y="1988.40" width="32" height="6.90" fill="#EF5350"/><rect x="2275.1" y="2001.10" width="32" height="6.90" fill="#EF5350"/><rect x="2275.1" y="1976" width="19.90" height="19.30" fill="#1E88E5"/><path d="M2284.70 1978.20L2285.29 1979.69L2286.89 1979.79L2285.65 1980.81L2286.05 1982.36L2284.70 1981.50L2283.35 1982.36L2283.75 1980.81L2282.51 1979.79L2284.11 1979.69z" fill="#fff"/><path d="M2290.10 1978.20L2290.69 1979.69L2292.29 1979.79L2291.05 1980.81L2291.45 1982.36L2290.10 1981.50L2288.75 1982.36L2289.15 1980.81L2287.91 1979.79L2289.51 1979.69z" fill="#fff"/><path d="M2279.30 1983.60L2279.89 1985.09L2281.49 1985.19L2280.25 1986.21L2280.65 1987.76L2279.30 1986.90L2277.95 1987.76L2278.35 1986.21L2277.11 1985.19L2278.71 1985.09z" fill="#fff"/><path d="M2284.80 1983.60L2285.39 1985.09L2286.99 1985.19L2285.75 1986.21L2286.15 1987.76L2284.80 1986.90L2283.45 1987.76L2283.85 1986.21L2282.61 1985.19L2284.21 1985.09z" fill="#fff"/><path d="M2290.10 1983.60L2290.69 1985.09L2292.29 1985.19L2291.05 1986.21L2291.45 1987.76L2290.10 1986.90L2288.75 1987.76L2289.15 1986.21L2287.91 1985.19L2289.51 1985.09z" fill="#fff"/><path d="M2279.30 1988.90L2279.89 1990.39L2281.49 1990.49L2280.25 1991.51L2280.65 1993.06L2279.30 1992.20L2277.95 1993.06L2278.35 1991.51L2277.11 1990.49L2278.71 1990.39z" fill="#fff"/><path d="M2284.80 1988.90L2285.39 1990.39L2286.99 1990.49L2285.75 1991.51L2286.15 1993.06L2284.80 1992.20L2283.45 1993.06L2283.85 1991.51L2282.61 1990.49L2284.21 1990.39z" fill="#fff"/><path d="M2290.10 1988.90L2290.69 1990.39L2292.29 1990.49L2291.05 1991.51L2291.45 1993.06L2290.10 1992.20L2288.75 1993.06L2289.15 1991.51L2287.91 1990.49L2289.51 1990.39z" fill="#fff"/></g>
<circle cx="2577.1" cy="1992" r="23.5" fill="#fff"/>
<circle cx="2577.1" cy="1992" r="20.35" fill="#fff" stroke="#F23645" stroke-width="2.9"/>
<clipPath id="f1"><circle cx="2577.1" cy="1992" r="16"/></clipPath><g clip-path="url(#f1)"><rect x="2561.1" y="1976" width="32" height="32" fill="#F4F4F8"/><rect x="2561.1" y="1976.60" width="32" height="7.00" fill="#EF5350"/><rect x="2561.1" y="1988.40" width="32" height="6.90" fill="#EF5350"/><rect x="2561.1" y="2001.10" width="32" height="6.90" fill="#EF5350"/><rect x="2561.1" y="1976" width="19.90" height="19.30" fill="#1E88E5"/><path d="M2570.70 1978.20L2571.29 1979.69L2572.89 1979.79L2571.65 1980.81L2572.05 1982.36L2570.70 1981.50L2569.35 1982.36L2569.75 1980.81L2568.51 1979.79L2570.11 1979.69z" fill="#fff"/><path d="M2576.10 1978.20L2576.69 1979.69L2578.29 1979.79L2577.05 1980.81L2577.45 1982.36L2576.10 1981.50L2574.75 1982.36L2575.15 1980.81L2573.91 1979.79L2575.51 1979.69z" fill="#fff"/><path d="M2565.30 1983.60L2565.89 1985.09L2567.49 1985.19L2566.25 1986.21L2566.65 1987.76L2565.30 1986.90L2563.95 1987.76L2564.35 1986.21L2563.11 1985.19L2564.71 1985.09z" fill="#fff"/><path d="M2570.80 1983.60L2571.39 1985.09L2572.99 1985.19L2571.75 1986.21L2572.15 1987.76L2570.80 1986.90L2569.45 1987.76L2569.85 1986.21L2568.61 1985.19L2570.21 1985.09z" fill="#fff"/><path d="M2576.10 1983.60L2576.69 1985.09L2578.29 1985.19L2577.05 1986.21L2577.45 1987.76L2576.10 1986.90L2574.75 1987.76L2575.15 1986.21L2573.91 1985.19L2575.51 1985.09z" fill="#fff"/><path d="M2565.30 1988.90L2565.89 1990.39L2567.49 1990.49L2566.25 1991.51L2566.65 1993.06L2565.30 1992.20L2563.95 1993.06L2564.35 1991.51L2563.11 1990.49L2564.71 1990.39z" fill="#fff"/><path d="M2570.80 1988.90L2571.39 1990.39L2572.99 1990.49L2571.75 1991.51L2572.15 1993.06L2570.80 1992.20L2569.45 1993.06L2569.85 1991.51L2568.61 1990.49L2570.21 1990.39z" fill="#fff"/><path d="M2576.10 1988.90L2576.69 1990.39L2578.29 1990.49L2577.05 1991.51L2577.45 1993.06L2576.10 1992.20L2574.75 1993.06L2575.15 1991.51L2573.91 1990.49L2575.51 1990.39z" fill="#fff"/></g>
<circle cx="2719.9" cy="1992" r="23.5" fill="#fff"/>
<circle cx="2719.9" cy="1992" r="20.35" fill="#fff" stroke="#F23645" stroke-width="2.9"/>
<clipPath id="f2"><circle cx="2719.9" cy="1992" r="16"/></clipPath><g clip-path="url(#f2)"><rect x="2703.9" y="1976" width="32" height="32" fill="#F4F4F8"/><rect x="2703.9" y="1976.60" width="32" height="7.00" fill="#EF5350"/><rect x="2703.9" y="1988.40" width="32" height="6.90" fill="#EF5350"/><rect x="2703.9" y="2001.10" width="32" height="6.90" fill="#EF5350"/><rect x="2703.9" y="1976" width="19.90" height="19.30" fill="#1E88E5"/><path d="M2713.50 1978.20L2714.09 1979.69L2715.69 1979.79L2714.45 1980.81L2714.85 1982.36L2713.50 1981.50L2712.15 1982.36L2712.55 1980.81L2711.31 1979.79L2712.91 1979.69z" fill="#fff"/><path d="M2718.90 1978.20L2719.49 1979.69L2721.09 1979.79L2719.85 1980.81L2720.25 1982.36L2718.90 1981.50L2717.55 1982.36L2717.95 1980.81L2716.71 1979.79L2718.31 1979.69z" fill="#fff"/><path d="M2708.10 1983.60L2708.69 1985.09L2710.29 1985.19L2709.05 1986.21L2709.45 1987.76L2708.10 1986.90L2706.75 1987.76L2707.15 1986.21L2705.91 1985.19L2707.51 1985.09z" fill="#fff"/><path d="M2713.60 1983.60L2714.19 1985.09L2715.79 1985.19L2714.55 1986.21L2714.95 1987.76L2713.60 1986.90L2712.25 1987.76L2712.65 1986.21L2711.41 1985.19L2713.01 1985.09z" fill="#fff"/><path d="M2718.90 1983.60L2719.49 1985.09L2721.09 1985.19L2719.85 1986.21L2720.25 1987.76L2718.90 1986.90L2717.55 1987.76L2717.95 1986.21L2716.71 1985.19L2718.31 1985.09z" fill="#fff"/><path d="M2708.10 1988.90L2708.69 1990.39L2710.29 1990.49L2709.05 1991.51L2709.45 1993.06L2708.10 1992.20L2706.75 1993.06L2707.15 1991.51L2705.91 1990.49L2707.51 1990.39z" fill="#fff"/><path d="M2713.60 1988.90L2714.19 1990.39L2715.79 1990.49L2714.55 1991.51L2714.95 1993.06L2713.60 1992.20L2712.25 1993.06L2712.65 1991.51L2711.41 1990.49L2713.01 1990.39z" fill="#fff"/><path d="M2718.90 1988.90L2719.49 1990.39L2721.09 1990.49L2719.85 1991.51L2720.25 1993.06L2718.90 1992.20L2717.55 1993.06L2717.95 1991.51L2716.71 1990.49L2718.31 1990.39z" fill="#fff"/></g>
<clipPath id="ru"><circle cx="42.5" cy="27" r="12"/></clipPath>
<g clip-path="url(#ru)"><rect x="30" y="15" width="25" height="7.2" fill="#F7F8FB"/><rect x="30" y="22" width="25" height="8.3" fill="#2B7DE9"/><rect x="30" y="30.3" width="25" height="9" fill="#EF5350"/></g>
<circle cx="30.3" cy="37.9" r="14" fill="#fff"/>
<clipPath id="fh"><circle cx="30.3" cy="37.9" r="12"/></clipPath><g clip-path="url(#fh)"><rect x="18.3" y="25.9" width="24" height="24" fill="#F4F4F8"/><rect x="18.3" y="26.35" width="24" height="5.25" fill="#EF5350"/><rect x="18.3" y="35.20" width="24" height="5.18" fill="#EF5350"/><rect x="18.3" y="44.72" width="24" height="5.18" fill="#EF5350"/><rect x="18.3" y="25.9" width="14.93" height="14.47" fill="#1E88E5"/><path d="M25.50 27.55L25.94 28.67L27.14 28.74L26.21 29.51L26.51 30.67L25.50 30.02L24.49 30.67L24.79 29.51L23.86 28.74L25.06 28.67z" fill="#fff"/><path d="M29.55 27.55L29.99 28.67L31.19 28.74L30.26 29.51L30.56 30.67L29.55 30.02L28.54 30.67L28.84 29.51L27.91 28.74L29.11 28.67z" fill="#fff"/><path d="M21.45 31.60L21.89 32.72L23.09 32.79L22.16 33.56L22.46 34.72L21.45 34.08L20.44 34.72L20.74 33.56L19.81 32.79L21.01 32.72z" fill="#fff"/><path d="M25.58 31.60L26.02 32.72L27.22 32.79L26.29 33.56L26.59 34.72L25.58 34.08L24.56 34.72L24.86 33.56L23.93 32.79L25.13 32.72z" fill="#fff"/><path d="M29.55 31.60L29.99 32.72L31.19 32.79L30.26 33.56L30.56 34.72L29.55 34.08L28.54 34.72L28.84 33.56L27.91 32.79L29.11 32.72z" fill="#fff"/><path d="M21.45 35.57L21.89 36.69L23.09 36.77L22.16 37.53L22.46 38.70L21.45 38.05L20.44 38.70L20.74 37.53L19.81 36.77L21.01 36.69z" fill="#fff"/><path d="M25.58 35.57L26.02 36.69L27.22 36.77L26.29 37.53L26.59 38.70L25.58 38.05L24.56 38.70L24.86 37.53L23.93 36.77L25.13 36.69z" fill="#fff"/><path d="M29.55 35.57L29.99 36.69L31.19 36.77L30.26 37.53L30.56 38.70L29.55 38.05L28.54 38.70L28.84 37.53L27.91 36.77L29.11 36.69z" fill="#fff"/></g>
<g fill="#fff" stroke="#fff" stroke-width="7" stroke-linejoin="round"><path d="M24 1960h24v30h-12v-18h-12z"/><circle cx="57.9" cy="1965.9" r="6"/><path d="M70.2 1960H83.5L72 1990H58.4z"/></g>
<g fill="#131722"><path d="M24 1960h24v30h-12v-18h-12z"/><circle cx="57.9" cy="1965.9" r="6"/><path d="M70.2 1960H83.5L72 1990H58.4z"/></g>
<path d="M3771.5 2047L3777.9 2035.6L3792.1 2035.6L3798.6 2047L3792.1 2058.4L3777.9 2058.4z" fill="none" stroke="#131722" stroke-width="2.2" stroke-linejoin="round"/><circle cx="3785" cy="2047" r="3.8" fill="none" stroke="#131722" stroke-width="2.2"/>
<path d="M3812.5 31.8l5 4.8l5-4.8" fill="none" stroke="#131722" stroke-width="2.4"/>
<circle cx="3706" cy="1096" r="13" fill="none" stroke="#fff" stroke-width="2"/><path d="M3699 1096h14M3706 1089v14" stroke="#fff" stroke-width="2" fill="none"/>
</svg>
<div id="price-axis">
<span class="t" style="left:3743.03px;top:84.18px;font-size:22px;color:#565656;transform:scaleX(0.9708);z-index:2">93.6000</span>
<span class="t" style="left:3743.03px;top:146.18px;font-size:22px;color:#565656;transform:scaleX(0.9708);z-index:2">93.4000</span>
<span class="t" style="left:3743.03px;top:207.18px;font-size:22px;color:#565656;transform:scaleX(0.9708);z-index:2">93.2000</span>
<span class="t" style="left:3743.03px;top:269.18px;font-size:22px;color:#565656;transform:scaleX(0.9708);z-index:2">93.0000</span>
<span class="t" style="left:3743.03px;top:331.18px;font-size:22px;color:#565656;transform:scaleX(0.9708);z-index:2">92.8000</span>
<span class="t" style="left:3743.03px;top:393.18px;font-size:22px;color:#565656;transform:scaleX(0.9708);z-index:2">92.6000</span>
<span class="t" style="left:3743.03px;top:455.18px;font-size:22px;color:#565656;transform:scaleX(0.9708);z-index:2">92.4000</span>
<span class="t" style="left:3743.03px;top:517.18px;font-size:22px;color:#565656;transform:scaleX(0.9708);z-index:2">92.2000</span>
<span class="t" style="left:3743.03px;top:579.18px;font-size:22px;color:#565656;transform:scaleX(0.9708);z-index:2">92.0000</span>
<span class="t" style="left:3743.03px;top:641.18px;font-size:22px;color:#565656;transform:scaleX(0.9708);z-index:2">91.8000</span>
<span class="t" style="left:3743.03px;top:703.18px;font-size:22px;color:#565656;transform:scaleX(0.9708);z-index:2">91.6000</span>
<span class="t" style="left:3743.03px;top:765.18px;font-size:22px;color:#565656;transform:scaleX(0.9708);z-index:2">91.4000</span>
<span class="t" style="left:3743.03px;top:826.18px;font-size:22px;color:#565656;transform:scaleX(0.9708);z-index:2">91.2000</span>
<span class="t" style="left:3743.03px;top:888.18px;font-size:22px;color:#565656;transform:scaleX(0.9708);z-index:2">91.0000</span>
<span class="t" style="left:3743.03px;top:950.18px;font-size:22px;color:#565656;transform:scaleX(0.9708);z-index:2">90.8000</span>
<span class="t" style="left:3743.03px;top:1012.18px;font-size:22px;color:#565656;transform:scaleX(0.9708);z-index:2">90.6000</span>
<span class="t" style="left:3743.03px;top:1074.18px;font-size:22px;color:#565656;transform:scaleX(0.9708);z-index:2">90.4000</span>
<span class="t" style="left:3743.03px;top:1136.18px;font-size:22px;color:#565656;transform:scaleX(0.9708);z-index:2">90.2000</span>
<span class="t" style="left:3743.03px;top:1198.18px;font-size:22px;color:#565656;transform:scaleX(0.9708);z-index:2">90.0000</span>
<span class="t" style="left:3744.00px;top:1260.18px;font-size:22px;color:#565656;transform:scaleX(0.9585);z-index:2">89.8000</span>
<span class="t" style="left:3744.00px;top:1322.18px;font-size:22px;color:#565656;transform:scaleX(0.9585);z-index:2">89.6000</span>
<span class="t" style="left:3744.00px;top:1384.18px;font-size:22px;color:#565656;transform:scaleX(0.9585);z-index:2">89.4000</span>
<span class="t" style="left:3744.00px;top:1446.18px;font-size:22px;color:#565656;transform:scaleX(0.9585);z-index:2">89.2000</span>
<span class="t" style="left:3744.00px;top:1507.18px;font-size:22px;color:#565656;transform:scaleX(0.9585);z-index:2">89.0000</span>
<span class="t" style="left:3744.00px;top:1569.18px;font-size:22px;color:#565656;transform:scaleX(0.9585);z-index:2">88.8000</span>
<span class="t" style="left:3744.00px;top:1631.18px;font-size:22px;color:#565656;transform:scaleX(0.9585);z-index:2">88.6000</span>
<span class="t" style="left:3744.00px;top:1693.18px;font-size:22px;color:#565656;transform:scaleX(0.9585);z-index:2">88.4000</span>
<span class="t" style="left:3744.00px;top:1755.18px;font-size:22px;color:#565656;transform:scaleX(0.9585);z-index:2">88.2000</span>
<span class="t" style="left:3744.00px;top:1817.18px;font-size:22px;color:#565656;transform:scaleX(0.9585);z-index:2">88.0000</span>
<span class="t" style="left:3744.00px;top:1879.18px;font-size:22px;color:#565656;transform:scaleX(0.9585);z-index:2">87.8000</span>
<span class="t" style="left:3744.00px;top:1941.18px;font-size:22px;color:#565656;transform:scaleX(0.9585);z-index:2">87.6000</span>
<span class="t" style="left:3744.00px;top:2003.18px;font-size:22px;color:#565656;transform:scaleX(0.9585);z-index:2">87.4000</span>
</div>
<div id="time-axis">
<span class="t" style="left:22.05px;top:2034.78px;font-size:22px;color:#565656;transform:scaleX(0.9468);z-index:5">15</span>
<span class="t" style="left:299.55px;top:2034.78px;font-size:22px;color:#565656;transform:scaleX(0.9468);z-index:5">20</span>
<span class="t" style="left:484.05px;top:2034.78px;font-size:22px;color:#565656;transform:scaleX(0.9468);z-index:5">22</span>
<span class="t" style="left:669.05px;top:2034.78px;font-size:22px;color:#565656;transform:scaleX(0.9468);z-index:5">27</span>
<span class="t" style="left:854.05px;top:2034.78px;font-size:22px;color:#565656;transform:scaleX(0.9468);z-index:5">29</span>
<span class="t" style="left:1032.00px;top:2034.78px;font-size:22px;color:#565656;transform:scaleX(1.0233);z-index:5">Дек</span>
<span class="t" style="left:1231.00px;top:2034.78px;font-size:22px;color:#565656;transform:scaleX(0.8333);z-index:5">5</span>
<span class="t" style="left:1414.50px;top:2034.78px;font-size:22px;color:#565656;transform:scaleX(1.0000);z-index:5">7</span>
<span class="t" style="left:1595.07px;top:2034.78px;font-size:22px;color:#565656;transform:scaleX(0.9258);z-index:5">11</span>
<span class="t" style="left:1779.05px;top:2034.78px;font-size:22px;color:#565656;transform:scaleX(0.9468);z-index:5">13</span>
<span class="t" style="left:2056.05px;top:2034.78px;font-size:22px;color:#565656;transform:scaleX(0.9468);z-index:5">18</span>
<span class="t" style="left:2342.05px;top:2034.78px;font-size:22px;color:#565656;transform:scaleX(0.9468);z-index:5">20</span>
<span class="t" style="left:2512.03px;top:2034.78px;font-size:22px;color:#565656;transform:scaleX(0.9736);z-index:5">12:00</span>
<span class="t" style="left:2771.05px;top:2034.78px;font-size:22px;color:#565656;transform:scaleX(0.9468);z-index:5">25</span>
<span class="t" style="left:3057.05px;top:2034.78px;font-size:22px;color:#565656;transform:scaleX(0.9468);z-index:5">27</span>
<span class="t" style="left:3227.03px;top:2034.78px;font-size:22px;color:#565656;transform:scaleX(0.9736);z-index:5">12:00</span>
<span class="t" style="left:3472.68px;top:2034.78px;font-size:22px;color:#565656;-webkit-text-stroke:0.7px #565656;transform:scaleX(1.0187);z-index:5">2024</span>
</div>
<div id="legend">
<span class="t" style="left:61.94px;top:15.77px;font-size:33px;color:#565656;transform:scaleX(0.8279);z-index:5">USDRUB_TOD</span>
<span class="t" style="left:261.22px;top:15.77px;font-size:33px;color:#565656;transform:scaleX(0.7778);z-index:5">-</span>
<span class="t" style="left:280.31px;top:15.77px;font-size:33px;color:#565656;transform:scaleX(0.8929);z-index:5">USD/РУБ</span>
<span class="t" style="left:413.28px;top:8.65px;font-size:42px;color:#131722;transform:scaleX(0.9800);z-index:5">·</span>
<span class="t" style="left:433.33px;top:15.77px;font-size:33px;color:#565656;transform:scaleX(0.8740);z-index:5">30</span>
<span class="t" style="left:471.96px;top:8.65px;font-size:42px;color:#131722;transform:scaleX(0.9600);z-index:5">·</span>
<span class="t" style="left:488.46px;top:15.77px;font-size:33px;color:#565656;transform:scaleX(0.8207);z-index:5">MOEX</span>
<span class="t" style="left:710.90px;top:18.74px;font-size:27px;color:#565656;transform:scaleX(0.9014);z-index:5">ОТКР</span>
<span class="t" style="left:776.25px;top:18.74px;font-size:27px;color:#F23645;transform:scaleX(0.9510);z-index:5">89.1600</span>
<span class="t" style="left:878.61px;top:18.74px;font-size:27px;color:#565656;transform:scaleX(0.8941);z-index:5">МАКС</span>
<span class="t" style="left:947.65px;top:18.74px;font-size:27px;color:#F23645;transform:scaleX(0.9521);z-index:5">89.1750</span>
<span class="t" style="left:1050.06px;top:18.74px;font-size:27px;color:#565656;transform:scaleX(0.9206);z-index:5">МИН</span>
<span class="t" style="left:1106.85px;top:18.74px;font-size:27px;color:#F23645;transform:scaleX(0.9468);z-index:5">89.0225</span>
<span class="t" style="left:1211.00px;top:18.74px;font-size:27px;color:#565656;transform:scaleX(0.8785);z-index:5">ЗАКР</span>
<span class="t" style="left:1271.95px;top:18.74px;font-size:27px;color:#F23645;transform:scaleX(0.9510);z-index:5">89.0650</span>
<span class="t" style="left:1376.29px;top:18.74px;font-size:27px;color:#F23645;transform:scaleX(0.9138);z-index:5">−0.0850 (−0.10%)</span>
<span class="t" style="left:31.66px;top:74.54px;font-size:27px;color:#F23645;transform:scaleX(0.9447);z-index:5">90.3200</span>
<span class="t" style="left:156.00px;top:76.88px;font-size:22px;color:#131722;transform:scaleX(0.9545);z-index:5">0.0000</span>
<span class="t" style="left:252.66px;top:74.54px;font-size:27px;color:#2962FF;transform:scaleX(0.9447);z-index:5">90.3200</span>
<span class="t" style="left:3744.36px;top:23.08px;font-size:22px;color:#131722;transform:scaleX(0.8353);z-index:6">RUB</span>
<span class="t" style="left:648.30px;top:14.22px;font-size:34px;color:#E91E63;font-weight:700;transform:scaleX(0.9722);z-index:5">≈</span>
</div>
<div id="crosshair-labels">
<span class="t" style="left:3742.53px;top:1085.98px;font-size:22px;color:#FFFFFF;-webkit-text-stroke:0.7px #FFFFFF;transform:scaleX(0.9708);z-index:8">90.3650</span>
<span class="t" style="left:3742.02px;top:1099.18px;font-size:22px;color:#131722;transform:scaleX(0.9835);z-index:6">90.3200</span>
<span class="t" style="left:53.32px;top:2034.78px;font-size:22px;color:#FFFFFF;-webkit-text-stroke:0.7px #FFFFFF;transform:scaleX(0.9824);z-index:8">чт 16 Ноя '23   10:30</span>
</div>
<div id="logo">
<span class="t" style="left:97.80px;top:1955.19px;font-size:41px;color:#131722;font-weight:700;text-shadow:0 0 2px #fff,0 0 2px #fff,0 0 3px #fff,0 0 3px #fff;transform:scaleX(1.0051);z-index:6">TradingView</span>
</div>
</div>
</body></html>
